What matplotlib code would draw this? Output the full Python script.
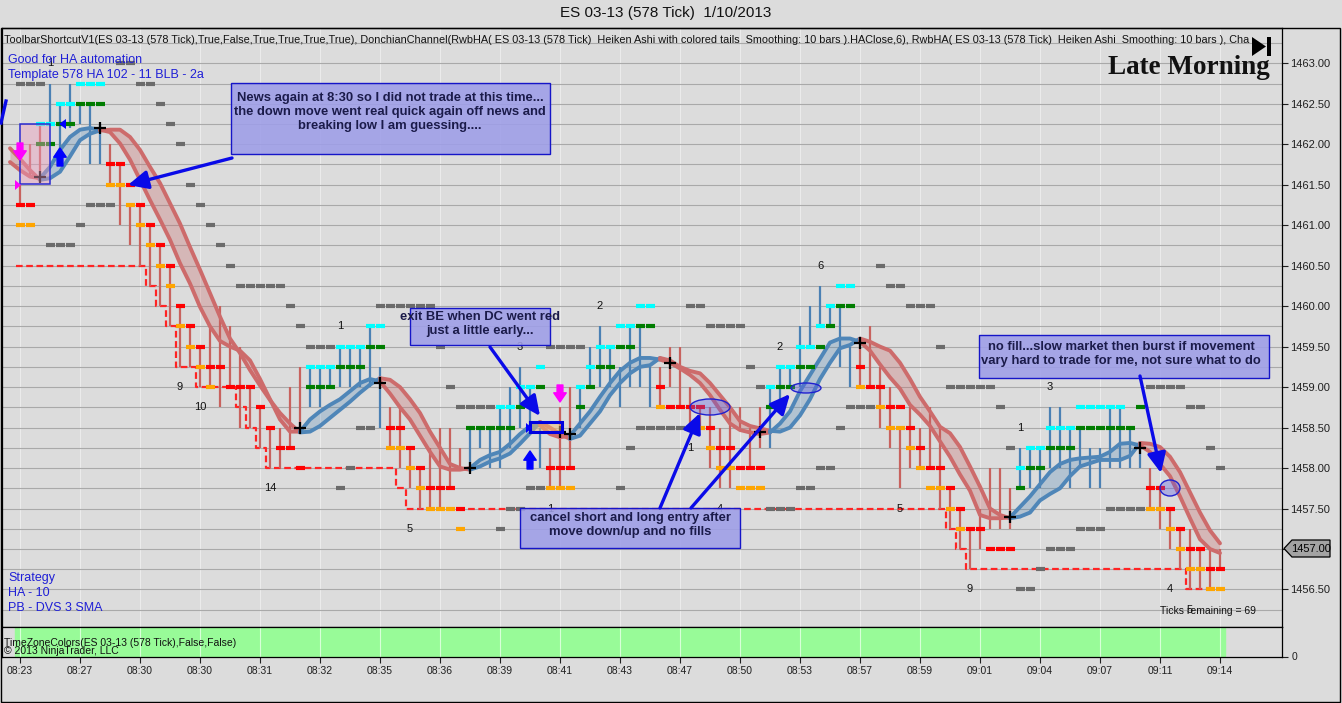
import matplotlib
matplotlib.use("Agg")
import matplotlib.pyplot as plt
from matplotlib.patches import Rectangle, Ellipse, Polygon
import numpy as np

plt.rcParams['font.family'] = ['Liberation Sans', 'DejaVu Sans']

W, H = 1342, 703
BG = '#dcdcdc'

# ---------------- data ----------------
time_labels = ['08:23', '08:27', '08:30', '08:30', '08:31', '08:32', '08:35', '08:36', '08:39', '08:41',
               '08:43', '08:47', '08:50', '08:53', '08:57', '08:59', '09:01', '09:04', '09:07', '09:11', '09:14']
time_bars = list(range(2, 123, 6))

# HA bars (bar 2 .. 122)
first_bar = 2
bar_high = [1461.50, 1462.00, 1462.25, 1462.75, 1462.50, 1462.75, 1462.50, 1462.50, 1462.25, 1462.00,
            1461.75, 1461.25, 1461.25, 1461.00, 1460.75, 1460.50, 1460.00, 1459.75, 1459.50, 1459.75,
            1460.00, 1459.75, 1459.50, 1459.00, 1458.75, 1458.50, 1458.50, 1459.00, 1459.25, 1459.25,
            1459.25, 1459.25, 1459.50, 1459.50, 1459.50, 1459.75, 1459.25, 1458.75, 1458.75, 1458.25,
            1458.00, 1458.25, 1458.50, 1458.50, 1458.25, 1458.50, 1458.50, 1458.50, 1458.75, 1459.00,
            1459.25, 1459.00, 1458.50, 1458.25, 1458.75, 1459.00, 1459.00, 1459.50, 1459.75, 1459.50,
            1459.25, 1459.75, 1459.75, 1459.25, 1459.25, 1459.50, 1459.50, 1459.00, 1458.75, 1458.75,
            1458.50, 1458.75, 1458.75, 1458.50, 1458.75, 1459.00, 1459.25, 1459.25, 1459.75, 1460.00,
            1460.25, 1460.00, 1460.00, 1459.50, 1459.60, 1459.75, 1459.25, 1459.00, 1458.50, 1458.75,
            1458.50, 1458.75, 1458.50, 1457.75, 1457.50, 1457.25, 1457.50, 1458.00, 1458.00, 1457.75,
            1458.25, 1458.25, 1458.25, 1458.75, 1458.75, 1458.50, 1458.50, 1458.25, 1458.25, 1458.75,
            1458.75, 1458.50, 1458.30, 1458.00, 1457.75, 1457.50, 1457.25, 1457.25, 1457.00, 1457.00,
            1457.00]
bar_low = [1461.25, 1461.60, 1461.55, 1462.25, 1461.75, 1462.20, 1462.25, 1461.75, 1461.75, 1461.50,
           1461.00, 1460.75, 1460.50, 1460.25, 1460.00, 1459.75, 1459.25, 1459.25, 1459.00, 1459.00,
           1458.75, 1459.00, 1458.50, 1458.50, 1458.25, 1458.00, 1458.00, 1458.25, 1458.50, 1458.75,
           1458.75, 1459.00, 1459.00, 1459.00, 1459.00, 1459.00, 1458.50, 1458.25, 1458.00, 1457.75,
           1457.50, 1457.50, 1457.50, 1457.75, 1458.00, 1458.00, 1458.25, 1458.00, 1458.00, 1458.25,
           1458.50, 1458.50, 1458.00, 1457.75, 1457.75, 1458.00, 1458.50, 1459.00, 1459.00, 1459.00,
           1458.75, 1459.00, 1459.00, 1458.75, 1458.75, 1459.00, 1458.75, 1458.50, 1458.50, 1458.00,
           1457.75, 1457.75, 1458.50, 1458.00, 1458.25, 1458.25, 1458.75, 1459.00, 1459.00, 1459.50,
           1459.75, 1459.75, 1459.25, 1459.00, 1459.00, 1459.00, 1458.50, 1458.25, 1457.75, 1458.00,
           1458.00, 1458.00, 1457.50, 1457.25, 1457.00, 1456.75, 1457.00, 1457.25, 1457.25, 1457.25,
           1457.75, 1457.75, 1457.75, 1458.00, 1458.00, 1457.75, 1458.00, 1457.75, 1457.75, 1458.00,
           1458.00, 1458.00, 1458.00, 1457.50, 1457.25, 1457.00, 1456.75, 1456.50, 1456.50, 1456.50,
           1456.75]
bar_dir = ('d' * 3 + 'u' * 6 + 'd' * 20 + 'u' * 8 + 'd' * 8 + 'u' * 8 + 'd' * 3 + 'u' * 8 +
           'd' * 11 + 'u' * 9 + 'd' * 16 + 'u' * 13 + 'd' * 8)

# colored HA dashes: (price, first bar, last bar)
cyan_runs = [(1462.75, 8, 10), (1462.5, 6, 7), (1462.25, 4, 5), (1459.25, 31, 33), (1459.5, 34, 36),
             (1459.75, 37, 38), (1458.75, 50, 51), (1459.0, 52, 53), (1459.25, 54, 54), (1459.0, 58, 58),
             (1459.25, 59, 59), (1459.5, 60, 61), (1459.75, 62, 63), (1460.0, 64, 65), (1459.0, 77, 77),
             (1459.25, 78, 79), (1459.5, 80, 81), (1459.75, 82, 82), (1460.0, 83, 83), (1460.25, 84, 85),
             (1458.0, 102, 102), (1458.25, 103, 104), (1458.5, 105, 107), (1458.75, 108, 112)]
green_runs = [(1462.5, 8, 10), (1462.25, 6, 7), (1462.0, 4, 5), (1459.0, 31, 33), (1459.25, 34, 36),
              (1459.5, 37, 38), (1458.5, 47, 51), (1458.75, 52, 52), (1459.0, 54, 54), (1458.75, 58, 58),
              (1459.0, 59, 59), (1459.25, 60, 61), (1459.5, 62, 63), (1459.75, 64, 65), (1458.75, 77, 77),
              (1459.0, 78, 79), (1459.25, 80, 81), (1459.5, 82, 82), (1459.75, 83, 83), (1460.0, 84, 85),
              (1457.75, 102, 102), (1458.0, 103, 104), (1458.25, 105, 107), (1458.5, 108, 113),
              (1458.75, 114, 114)]
red_runs = [(1461.25, 2, 3), (1461.75, 11, 12), (1461.5, 13, 13), (1461.25, 14, 14), (1461.0, 15, 15),
            (1460.75, 16, 16), (1460.5, 17, 17), (1460.0, 18, 18), (1459.75, 19, 19), (1459.5, 20, 20),
            (1459.25, 21, 22), (1459.0, 23, 25), (1458.75, 26, 26), (1458.5, 27, 27), (1458.25, 28, 29),
            (1458.0, 30, 30), (1458.5, 39, 40), (1458.25, 41, 41), (1458.0, 42, 42), (1457.75, 43, 45),
            (1457.5, 46, 46), (1458.0, 55, 57), (1459.0, 66, 66), (1458.75, 67, 70), (1458.5, 71, 71),
            (1458.25, 72, 73), (1458.0, 74, 76), (1459.25, 86, 86), (1459.0, 87, 88), (1458.75, 89, 90),
            (1458.5, 91, 91), (1458.25, 92, 92), (1458.0, 93, 94), (1457.75, 95, 95), (1457.5, 96, 96),
            (1457.25, 97, 98), (1457.0, 99, 101), (1457.75, 115, 116), (1457.5, 117, 117),
            (1457.25, 118, 118), (1457.0, 119, 120), (1456.75, 121, 122)]
orange_runs = [(1461.0, 2, 3), (1461.5, 11, 12), (1461.25, 13, 13), (1461.0, 14, 14), (1460.75, 15, 15),
               (1460.5, 16, 16), (1460.25, 17, 17), (1459.75, 18, 18), (1459.5, 19, 19), (1459.25, 20, 20),
               (1459.0, 21, 21), (1458.25, 39, 40), (1458.0, 41, 41), (1457.75, 42, 42), (1457.5, 43, 45),
               (1457.25, 46, 46), (1457.75, 55, 57), (1458.75, 66, 66), (1458.5, 69, 70), (1458.25, 71, 71),
               (1458.0, 72, 73), (1457.75, 74, 76), (1459.0, 86, 86), (1458.75, 88, 88), (1458.5, 89, 90),
               (1458.25, 91, 91), (1458.0, 92, 92), (1457.75, 93, 94), (1457.5, 95, 95), (1457.25, 96, 96),
               (1457.5, 115, 116), (1457.25, 117, 117), (1457.0, 118, 118), (1456.75, 119, 120),
               (1456.5, 121, 122)]
# Donchian channel dashes
gray_runs = [(1462.75, 2, 4), (1463.0, 12, 13), (1462.75, 14, 15), (1462.5, 16, 16), (1462.25, 17, 17),
             (1462.0, 18, 18), (1461.5, 19, 19), (1461.25, 9, 11), (1461.25, 20, 20), (1461.0, 8, 8),
             (1461.0, 21, 21), (1460.75, 5, 7), (1460.75, 22, 22), (1460.5, 23, 23), (1460.25, 24, 28),
             (1460.0, 29, 29), (1459.75, 30, 30), (1459.5, 31, 33), (1457.75, 34, 34), (1458.0, 35, 35),
             (1458.5, 36, 37), (1460.0, 38, 43), (1459.5, 44, 44), (1459.0, 45, 45), (1458.75, 46, 49),
             (1457.25, 50, 50), (1457.5, 51, 52), (1457.75, 53, 54), (1459.5, 55, 58), (1457.75, 62, 62),
             (1458.25, 63, 63), (1458.5, 64, 68), (1460.0, 69, 70), (1459.75, 71, 74), (1459.25, 75, 75),
             (1459.0, 76, 76), (1457.5, 77, 79), (1457.75, 80, 81), (1458.0, 82, 83), (1458.5, 84, 84),
             (1458.75, 85, 87), (1460.5, 88, 88), (1460.25, 89, 90), (1460.0, 91, 93), (1459.5, 94, 94),
             (1459.0, 95, 99), (1458.75, 100, 100), (1458.25, 101, 101), (1456.5, 102, 103),
             (1456.75, 104, 104), (1457.0, 105, 107), (1457.25, 108, 110), (1457.5, 111, 114),
             (1459.0, 115, 118), (1458.75, 119, 120), (1458.25, 121, 121), (1458.0, 122, 122)]
# lower channel step line: (first bar, last bar, price)
step_runs = [(2, 14, 1460.5), (15, 15, 1460.25), (16, 16, 1460.0), (17, 17, 1459.75), (18, 19, 1459.25),
             (20, 23, 1459.0), (24, 24, 1458.75), (25, 25, 1458.5), (26, 26, 1458.25), (27, 39, 1458.0),
             (40, 40, 1457.75), (41, 94, 1457.5), (95, 95, 1457.25), (96, 96, 1457.0),
             (97, 118, 1456.75), (119, 122, 1456.5)]

# smoothed HA ribbon (bar 1 .. 122)
band_a = [1461.78, 1461.68, 1461.60, 1461.58, 1461.72, 1461.93, 1462.09, 1462.18, 1462.20, 1462.18,
          1462.15, 1462.01, 1461.81, 1461.56, 1461.31, 1461.07, 1460.82, 1460.53, 1460.28, 1459.99,
          1459.75, 1459.57, 1459.50, 1459.45, 1459.33, 1459.10, 1458.85, 1458.60, 1458.45, 1458.45,
          1458.60, 1458.70, 1458.78, 1458.85, 1458.95, 1459.05, 1459.10, 1459.07, 1458.92, 1458.75,
          1458.60, 1458.40, 1458.20, 1458.02, 1457.98, 1457.98, 1458.00, 1458.10, 1458.16, 1458.20,
          1458.30, 1458.42, 1458.52, 1458.53, 1458.42, 1458.38, 1458.40, 1458.55, 1458.70, 1458.88,
          1459.05, 1459.20, 1459.30, 1459.36, 1459.36, 1459.34, 1459.30, 1459.23, 1459.15, 1459.05,
          1458.90, 1458.72, 1458.55, 1458.47, 1458.44, 1458.42, 1458.44, 1458.55, 1458.70, 1458.95,
          1459.15, 1459.35, 1459.55, 1459.60, 1459.60, 1459.56, 1459.45, 1459.28, 1459.12, 1458.98,
          1458.78, 1458.66, 1458.52, 1458.33, 1458.14, 1457.92, 1457.72, 1457.42, 1457.38, 1457.38,
          1457.39, 1457.52, 1457.65, 1457.80, 1457.95, 1458.05, 1458.10, 1458.12, 1458.13, 1458.14,
          1458.20, 1458.30, 1458.31, 1458.28, 1458.20, 1458.05, 1457.90, 1457.65, 1457.38, 1457.12,
          1457.00, 1456.95]
band_b = [1461.95, 1461.82, 1461.68, 1461.56, 1461.58, 1461.66, 1461.85, 1462.05, 1462.13, 1462.17,
          1462.18, 1462.18, 1462.09, 1461.93, 1461.72, 1461.52, 1461.27, 1461.02, 1460.73, 1460.45,
          1460.16, 1459.87, 1459.60, 1459.42, 1459.21, 1459.02, 1458.84, 1458.68, 1458.55, 1458.44,
          1458.45, 1458.52, 1458.62, 1458.72, 1458.82, 1458.93, 1459.03, 1459.11, 1459.09, 1459.00,
          1458.85, 1458.68, 1458.45, 1458.25, 1458.05, 1458.00, 1457.98, 1458.02, 1458.08, 1458.12,
          1458.18, 1458.30, 1458.43, 1458.57, 1458.50, 1458.42, 1458.36, 1458.40, 1458.55, 1458.70,
          1458.90, 1459.05, 1459.17, 1459.25, 1459.27, 1459.36, 1459.33, 1459.25, 1459.20, 1459.17,
          1459.05, 1458.90, 1458.75, 1458.58, 1458.52, 1458.49, 1458.46, 1458.45, 1458.50, 1458.65,
          1458.85, 1459.10, 1459.30, 1459.48, 1459.52, 1459.60, 1459.56, 1459.50, 1459.45, 1459.30,
          1459.10, 1458.88, 1458.70, 1458.51, 1458.43, 1458.26, 1458.02, 1457.77, 1457.50, 1457.42,
          1457.38, 1457.40, 1457.45, 1457.60, 1457.68, 1457.75, 1457.90, 1458.02, 1458.06, 1458.10,
          1458.10, 1458.10, 1458.15, 1458.31, 1458.30, 1458.26, 1458.14, 1457.95, 1457.70, 1457.45,
          1457.23, 1457.07]
trend_segments = [(1, 4, 'r'), (4, 10, 'b'), (10, 30, 'r'), (30, 38, 'b'), (38, 47, 'r'), (47, 54, 'b'),
                  (54, 57, 'r'), (57, 66, 'b'), (66, 77, 'r'), (77, 86, 'b'), (86, 101, 'r'),
                  (101, 114, 'b'), (114, 122, 'r')]

cross_x = [4, 10, 30, 38, 47, 56, 57, 67, 76, 86, 101, 114]
cross_y = [1461.6, 1462.2, 1458.5, 1459.05, 1458.0, 1458.45, 1458.42, 1459.3, 1458.45, 1459.55, 1457.4, 1458.25]

num_x = [5, 18, 20, 27, 34, 41, 52, 55, 60, 69, 72, 78, 82, 90, 97, 102, 105, 117, 119]
num_y = [1463.0, 1459.0, 1458.75, 1457.75, 1459.75, 1457.25, 1459.5, 1457.5, 1460.0, 1458.25, 1457.5,
         1459.5, 1460.5, 1457.5, 1456.5, 1458.5, 1459.0, 1456.5, 1456.25]
num_txt = ['1', '9', '10', '14', '1', '5', '3', '1', '2', '1', '4', '2', '6', '5', '9', '1', '3', '4', '5']

# ---------------- layout helpers ----------------
def price_at(py):
    return 1463.0 - (py - 63.3) / 80.95

fig = plt.figure(figsize=(W / 100, H / 100), dpi=100, facecolor=BG)
ax = fig.add_axes([2 / W, 1 - 627 / H, 1280 / W, (627 - 28) / H], facecolor=BG)
ax2 = fig.add_axes([2 / W, 1 - 656.5 / H, 1280 / W, 29.5 / H], facecolor=BG)

ax.set_xlim(0.2, 128.2)
ax.set_ylim(price_at(627), price_at(28))

# grid
for p in np.arange(1456.25, 1463.5, 0.25):
    ax.axhline(p, color='#a9a9a9', lw=0.8, zorder=0.5)
for b in time_bars:
    ax.axvline(b, color='#ebebeb', lw=0.8, zorder=0.4)
    ax2.axvline(b, color='#d8ffd8', lw=0.8, zorder=2)

# ribbons
ba = np.array(band_a)
bb = np.array(band_b)
for s, e, c in trend_segments:
    xs = np.arange(s, e + 1)
    a = ba[s - 1:e]
    b = bb[s - 1:e]
    if c == 'r':
        lc, fc, al = '#cd6b6b', '#c86464', 0.3
    else:
        lc, fc, al = '#4f86b8', '#4682b4', 0.27
    ax.fill_between(xs, a, b, color=fc, alpha=al, lw=0, zorder=1)
    ax.plot(xs, a, color=lc, lw=2.8, zorder=3, solid_joinstyle='round', solid_capstyle='round')
    ax.plot(xs, b, color=lc, lw=2.8, zorder=3, solid_joinstyle='round', solid_capstyle='round')

# step line
sx, sy = [], []
for a, b, p in step_runs:
    for i in range(a, b + 1):
        sx.append(i - 0.4)
        sy.append(p)
sx.append(step_runs[-1][1] + 0.6)
sy.append(step_runs[-1][2])
ax.step(sx, sy, where='post', color='#ff2424', lw=1.6, dashes=(3, 1.6), zorder=2)

# wicks
bx = np.arange(first_bar, first_bar + len(bar_high))
wcol = ['#4a80b4' if d == 'u' else '#c8625e' for d in bar_dir]
ax.vlines(bx, bar_low, bar_high, colors=wcol, lw=1.6, zorder=2.5)

# dashes
def expand(runs):
    xs, ys = [], []
    for p, a, b in runs:
        for i in range(a, b + 1):
            xs.append(i)
            ys.append(p)
    return np.array(xs, dtype=float), np.array(ys)

for runs, col in [(gray_runs, '#6b6b6b'), (orange_runs, '#ffa500'), (red_runs, '#ff0000'),
                  (green_runs, '#007d00'), (cyan_runs, '#00ffff')]:
    xs, ys = expand(runs)
    ax.hlines(ys, xs - 0.45, xs + 0.45, colors=col, lw=3.0, zorder=4, capstyle='butt')

ax.plot(cross_x, cross_y, '+', color='black', ms=9, mew=1.6, zorder=5)
for x, y, t in zip(num_x, num_y, num_txt):
    ax.text(x, y, t, ha='center', va='center', fontsize=8, color='#111111', zorder=5)

# main axis styling
ax.yaxis.tick_right()
ax.set_yticks(np.arange(1456.5, 1463.01, 0.5))
ax.set_yticklabels(['%.2f' % v for v in np.arange(1456.5, 1463.01, 0.5)])
ax.tick_params(axis='y', length=4, width=0.8, labelsize=8, pad=2, colors='#202020')
ax.set_xticks([])
for sp in ax.spines.values():
    sp.set_color('black')
    sp.set_linewidth(0.9)

# lower panel
ax2.set_xlim(0.2, 128.2)
ax2.set_ylim(0, 1)
ax2.axvspan(1.5, 122.5, ymin=0.03, ymax=1, color='#98fb98', zorder=1)
ax2.yaxis.tick_right()
ax2.set_yticks([0])
ax2.set_yticklabels(['0'])
ax2.set_xticks(time_bars)
ax2.set_xticklabels(time_labels)
ax2.tick_params(axis='both', length=4, width=0.8, labelsize=7.5, pad=3, colors='#202020')
for sp in ax2.spines.values():
    sp.set_color('black')
    sp.set_linewidth(0.9)

# ---------------- overlay (pixel coordinates) ----------------
ov = fig.add_axes([0, 0, 1, 1], zorder=10)
ov.set_xlim(0, W)
ov.set_ylim(H, 0)
ov.axis('off')
ov.patch.set_alpha(0)

ov.add_patch(Rectangle((1, 28), 1339, 674, fill=False, ec='black', lw=1))
ov.text(666, 13, 'ES 03-13 (578 Tick)  1/10/2013', ha='center', va='center', fontsize=11, color='#111111')
ov.text(4, 40, 'ToolbarShortcutV1(ES 03-13 (578 Tick),True,False,True,True,True,True), '
        'DonchianChannel(RwbHA( ES 03-13 (578 Tick)  Heiken Ashi with colored tails  Smoothing: 10 bars ).HAClose,6), '
        'RwbHA( ES 03-13 (578 Tick)  Heiken Ashi  Smoothing: 10 bars ), Cha',
        ha='left', va='center', fontsize=7.85, color='#111111', clip_on=True)
ov.text(1270, 68, 'Late Morning', ha='right', va='center', fontsize=19.5, fontweight='bold',
        family=['Liberation Serif', 'DejaVu Serif'], color='#111111')
ov.add_patch(Polygon([(1252, 37), (1252, 56), (1266, 46.5)], closed=True, fc='black', ec='none'))
ov.add_patch(Rectangle((1267, 37), 4, 19, fc='black', ec='none'))

blue_txt = '#1f1fd6'
ov.text(8, 60, 'Good for HA automation', fontsize=9, color=blue_txt, va='center')
ov.text(8, 75, 'Template 578 HA 102 - 11 BLB - 2a', fontsize=9, color=blue_txt, va='center')
ov.text(8, 578, 'Strategy', fontsize=9, color=blue_txt, va='center')
ov.text(8, 593, 'HA - 10', fontsize=9, color=blue_txt, va='center')
ov.text(8, 608, 'PB - DVS 3 SMA', fontsize=9, color=blue_txt, va='center')
ov.text(1160, 611, 'Ticks remaining = 69', fontsize=7.5, color='#111111', va='center')
ov.text(4, 643, 'TimeZoneColors(ES 03-13 (578 Tick),False,False)', fontsize=7.5, color='#111111', va='center')
ov.text(4, 651, '\u00a9 2013 NinjaTrader, LLC', fontsize=7.5, color='#111111', va='center')

# current price marker
ov.add_patch(Polygon([(1284, 548.5), (1292, 540), (1330, 540), (1330, 557), (1292, 557)], closed=True,
                     fc='#a3a3a3', ec='black', lw=0.9, zorder=3))
ov.text(1311, 548.5, '1457.00', ha='center', va='center', fontsize=8, color='black', zorder=4)

# text boxes
box_fc = (0.62, 0.62, 0.91, 0.88)
boxes = [
    ((231, 83, 319, 71), 390, 92, 'News again at 8:30 so I did not trade at this time...\n'
                                  'the down move went real quick again off news and\nbreaking low I am guessing....'),
    ((410, 308, 140, 37), 480, 311, 'exit BE when DC went red\njust a little early...'),
    ((520, 508, 220, 40), 630, 512, 'cancel short and long entry after\nmove down/up and no fills'),
    ((979, 335, 290, 43), 1121, 341, 'no fill...slow market then burst if movement\nvary hard to trade for me, not sure what to do'),
]
for (x0, y0, w, h), tx, ty, txt in boxes:
    ov.add_patch(Rectangle((x0, y0), w, h, fc=box_fc, ec='#1515c8', lw=1.0, zorder=2))
    ov.text(tx, ty, txt, ha='center', va='top', fontsize=9.4, fontweight='bold', color='#1b1b4a',
            linespacing=1.2, zorder=3)

# highlight rectangles and ellipses
ov.add_patch(Rectangle((20, 124), 30, 60, fc=(0.92, 0.62, 0.75, 0.45), ec='#2a2ad0', lw=1.1, zorder=1))
ov.add_patch(Rectangle((530, 422), 32, 10, fc=(0.95, 0.75, 0.45, 0.5), ec='#0000e0', lw=2.2, zorder=1))
for cx, cy, w, h in [(710, 407, 40, 16), (806, 388, 30, 10), (1170, 488, 20, 16)]:
    ov.add_patch(Ellipse((cx, cy), w, h, fc=(0.35, 0.35, 0.9, 0.35), ec='#2020d0', lw=1.0, zorder=1))

# big annotation arrows
arrow_kw = dict(arrowstyle='-|>,head_length=0.6,head_width=0.28', lw=2.4, color='#0a0ae8',
                mutation_scale=20, shrinkA=0, shrinkB=0)
for tail, tip in [((232, 158), (128, 185)), ((490, 347), (540, 416)), ((660, 508), (700, 413)),
                  ((691, 508), (790, 394)), ((1140, 376), (1161, 473))]:
    ov.annotate('', xy=tip, xytext=tail, arrowprops=arrow_kw, zorder=4)
ov.plot([1, 6], [123, 101], color='#0a0ae8', lw=2.4)

# small signal arrows
small_kw = dict(arrowstyle='simple,head_length=0.55,head_width=0.75,tail_width=0.35',
                mutation_scale=12, shrinkA=0, shrinkB=0)
for tail, tip, col in [((20, 143), (20, 160), '#ff00ff'), ((60, 166), (60, 148), '#0000ff'),
                       ((530, 469), (530, 451), '#0000ff'), ((560, 385), (560, 402), '#ff00ff')]:
    ov.annotate('', xy=tip, xytext=tail, arrowprops=dict(small_kw, color=col), zorder=4)
ov.add_patch(Polygon([(15, 180), (15, 190), (21, 185)], closed=True, fc='#ff00ff', ec='none', zorder=4))
ov.add_patch(Polygon([(59, 124), (66, 119), (66, 129)], closed=True, fc='#0000ff', ec='none', zorder=4))
ov.add_patch(Polygon([(526, 423), (526, 433), (532, 428)], closed=True, fc='#0000ff', ec='none', zorder=4))

fig.savefig('out.png', dpi=100, facecolor=BG)
